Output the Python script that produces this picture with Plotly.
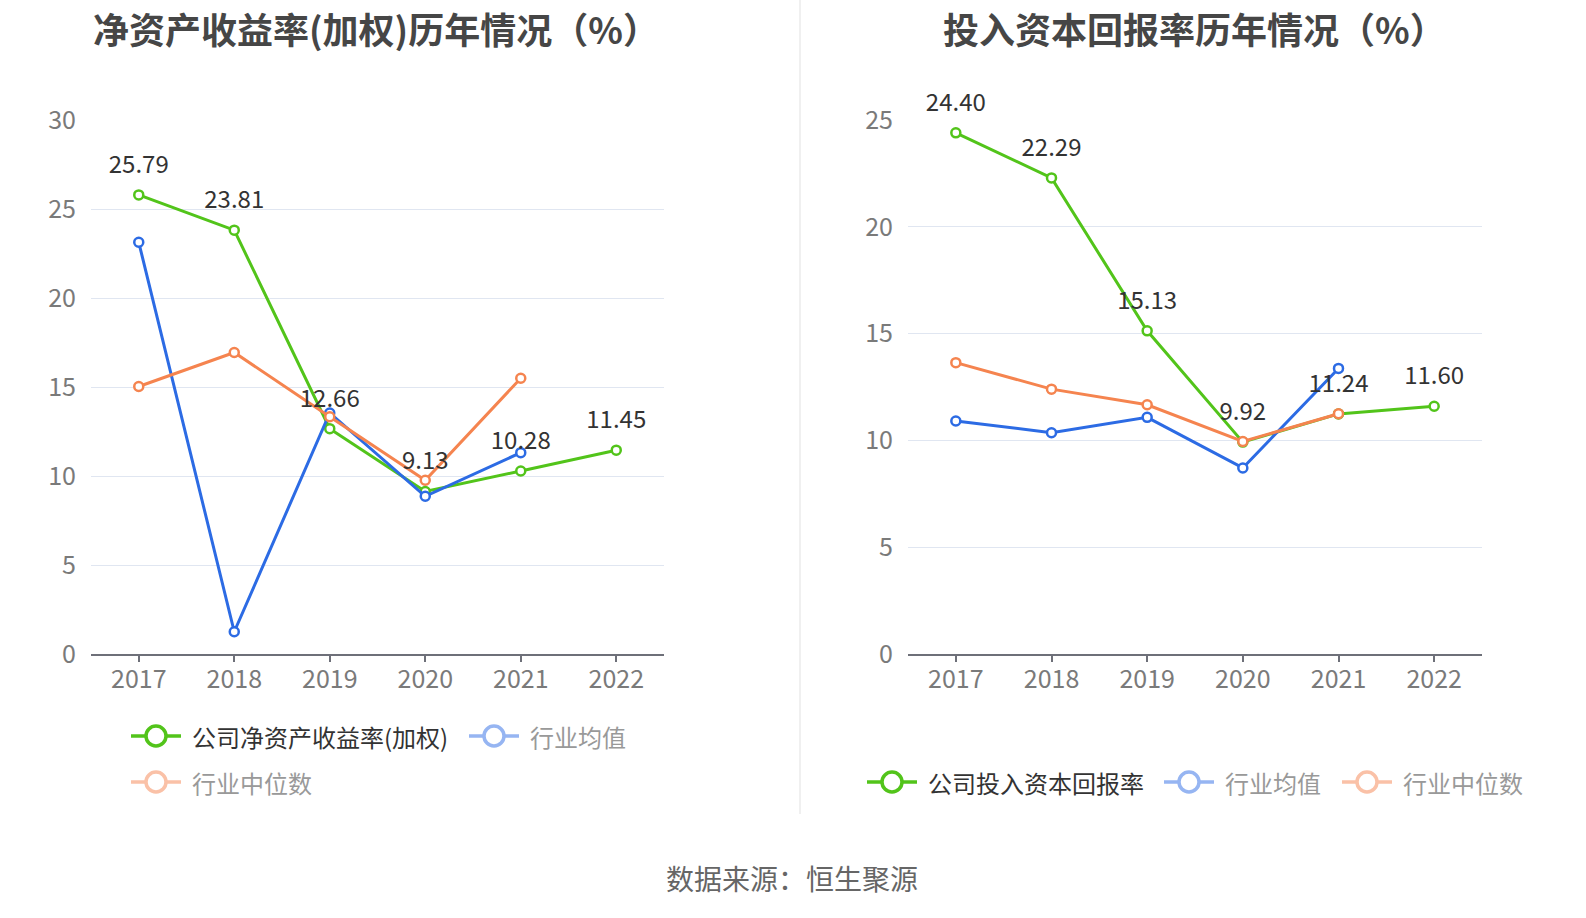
import plotly.graph_objects as go

# ---------------- data ----------------
years = ["2017", "2018", "2019", "2020", "2021", "2022"]

roe_company = [25.79, 23.81, 12.66, 9.13, 10.28, 11.45]
roe_ind_mean = [23.13, 1.25, 13.54, 8.86, 11.31, None]
roe_ind_median = [15.03, 16.94, 13.33, 9.76, 15.49, None]

roic_company = [24.40, 22.29, 15.13, 9.92, 11.24, 11.60]
roic_ind_mean = [10.91, 10.36, 11.08, 8.71, 13.37, None]
roic_ind_median = [13.64, 12.40, 11.67, 9.95, 11.25, None]

roe_ticks = [0, 5, 10, 15, 20, 25, 30]
roic_ticks = [0, 5, 10, 15, 20, 25]

title_left = "净资产收益率(加权)历年情况（%）"
title_right = "投入资本回报率历年情况（%）"
legend_left = ["公司净资产收益率(加权)", "行业均值", "行业中位数"]
legend_right = ["公司投入资本回报率", "行业均值", "行业中位数"]
source_text = "数据来源：恒生聚源"

# ---------------- style ----------------
W, H = 1586, 918
GREEN = "#52C41A"
BLUE = "#2C6BE4"
ORANGE = "#F5844F"
BLUE_F = "#96B5F2"
ORANGE_F = "#FAC1A7"
FONT = "Noto Sans CJK SC, Noto Sans, sans-serif"

xpos = list(range(len(years)))


def px_x(x):
    return x / W


def px_y(y):
    return 1 - y / H


fig = go.Figure()


def add_series(vals, color, xa, ya):
    fig.add_trace(go.Scatter(
        x=xpos, y=vals, mode="lines+markers",
        line=dict(color=color, width=3),
        marker=dict(symbol="circle", size=9, color="white",
                    line=dict(color=color, width=2.5)),
        xaxis=xa, yaxis=ya, showlegend=False, hoverinfo="y",
    ))


def add_labels(vals, xa, ya):
    fig.add_trace(go.Scatter(
        x=xpos, y=vals, mode="markers+text",
        text=[f"{v:.2f}" for v in vals], textposition="top center",
        textfont=dict(size=24, color="#333333", family=FONT),
        marker=dict(size=24, color="rgba(0,0,0,0)"),
        xaxis=xa, yaxis=ya, showlegend=False, hoverinfo="skip",
        cliponaxis=False,
    ))


add_series(roe_company, GREEN, "x", "y")
add_series(roe_ind_mean, BLUE, "x", "y")
add_series(roe_ind_median, ORANGE, "x", "y")
add_labels(roe_company, "x", "y")
add_series(roic_company, GREEN, "x2", "y2")
add_series(roic_ind_mean, BLUE, "x2", "y2")
add_series(roic_ind_median, ORANGE, "x2", "y2")
add_labels(roic_company, "x2", "y2")

annotations = []
# titles
annotations.append(dict(x=px_x(376), y=1, xref="paper", yref="paper",
                        text=f"<b>{title_left}</b>", showarrow=False,
                        xanchor="center", yanchor="top",
                        font=dict(size=36, color="#464646", family=FONT)))
annotations.append(dict(x=px_x(1194), y=1, xref="paper", yref="paper",
                        text=f"<b>{title_right}</b>", showarrow=False,
                        xanchor="center", yanchor="top",
                        font=dict(size=36, color="#464646", family=FONT)))
# source
annotations.append(dict(x=px_x(792), y=px_y(878), xref="paper", yref="paper",
                        text=source_text, showarrow=False,
                        xanchor="center", yanchor="middle",
                        font=dict(size=28, color="#666666", family=FONT)))

shapes = []
# separator
shapes.append(dict(type="line", xref="paper", yref="paper",
                   x0=px_x(800), x1=px_x(800), y0=px_y(0), y1=px_y(814),
                   line=dict(color="#EBEBEB", width=1.5)))


def legend_item(cx, cy, text, color, text_color):
    shapes.append(dict(type="line", xref="paper", yref="paper",
                       x0=px_x(cx - 25), x1=px_x(cx + 25), y0=px_y(cy), y1=px_y(cy),
                       line=dict(color=color, width=3.5)))
    r = 10
    shapes.append(dict(type="circle", xref="paper", yref="paper",
                       x0=px_x(cx - r), x1=px_x(cx + r), y0=px_y(cy + r), y1=px_y(cy - r),
                       fillcolor="white", line=dict(color=color, width=3.5)))
    annotations.append(dict(x=px_x(cx + 34), y=px_y(cy), xref="paper", yref="paper",
                            text=text, showarrow=False, xanchor="left", yanchor="middle",
                            font=dict(size=24, color=text_color, family=FONT)))


legend_item(156, 736, legend_left[0], GREEN, "#333333")
legend_item(494, 736, legend_left[1], BLUE_F, "#999999")
legend_item(156, 782, legend_left[2], ORANGE_F, "#999999")
legend_item(892, 782, legend_right[0], GREEN, "#333333")
legend_item(1189, 782, legend_right[1], BLUE_F, "#999999")
legend_item(1367, 782, legend_right[2], ORANGE_F, "#999999")

xaxis_common = dict(
    range=[-0.5, 5.5], tickvals=xpos, ticktext=years,
    showgrid=False, zeroline=False,
    showline=True, linecolor="#6E7079", linewidth=1.5,
    ticks="outside", tickcolor="#6E7079", ticklen=6, tickwidth=1.5,
    tickfont=dict(size=25, color="#7A7A7A", family=FONT),
    ticklabelstandoff=-4, fixedrange=True,
)
yaxis_common = dict(
    showgrid=True, gridcolor="#E0E6F1", gridwidth=1.2, zeroline=False,
    showline=False, ticks="",
    tickfont=dict(size=25, color="#7A7A7A", family=FONT),
    ticklabelstandoff=14, fixedrange=True,
)

y_bottom = px_y(654)
y_top = px_y(120)

fig.update_layout(
    width=W, height=H,
    margin=dict(l=0, r=0, t=0, b=0, autoexpand=False),
    paper_bgcolor="white", plot_bgcolor="white",
    showlegend=False,
    xaxis=dict(**xaxis_common, domain=[px_x(91), px_x(664)], anchor="y"),
    yaxis=dict(**yaxis_common, domain=[y_bottom, y_top], range=[0, 30],
               tickvals=roe_ticks, anchor="x"),
    xaxis2=dict(**xaxis_common, domain=[px_x(908), px_x(1482)], anchor="y2"),
    yaxis2=dict(**yaxis_common, domain=[y_bottom, y_top], range=[0, 25],
                tickvals=roic_ticks, anchor="x2"),
    annotations=annotations,
    shapes=shapes,
    font=dict(family=FONT),
)

fig.write_html(
    "out.html",
    config={"displayModeBar": False},
    post_script="document.body.style.margin='0';document.body.style.padding='0';"
                "document.body.style.overflow='hidden';",
)
